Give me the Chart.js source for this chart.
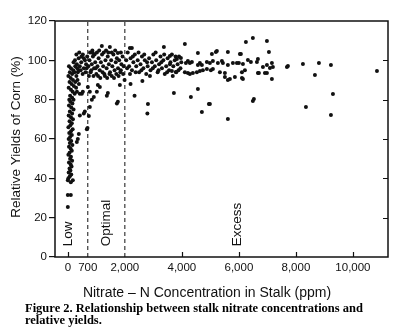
<!DOCTYPE html>
<html>
<head>
<meta charset="utf-8">
<script src="https://cdn.jsdelivr.net/npm/chart.js@4"></script>
<style>
  html, body { margin: 0; background: #fff; }
  canvas { display: block; }
</style>
</head>
<body>
<canvas id="chart" width="408" height="335"></canvas>
<script>
// stalk nitrate-N (ppm) vs relative corn yield (%), one [ppm, yield] pair per field
const lowStalk = [
  [40,97],[110,96],[190,95],[260,97],[330,96],[70,94],[150,93],[230,94],[300,92],[380,95],
  [20,92],[100,91],[180,90],[260,89],[340,90],[60,89],[130,88],[210,87],[290,86],[390,88],
  [30,86],[110,85],[170,84],[240,83],[320,84],[80,82],[150,81],[200,80],[50,80],[420,83],
  [491,83],[526,84],
  [250,100],[316,98],[380,101],[420,97],[470,99],[526,103],[560,96],[600,100],[640,98],[680,102],
  [350,94],[450,95],[520,93],[620,94],[200,99],[480,102],[560,101],[660,96],[300,103],[400,104],
  [90,79],[160,78],[40,77],[120,76],[200,75],[70,74],[150,73],[30,72],[110,71],[180,70],
  [60,69],[140,68],[90,67],[20,66],[170,65],[110,64],[50,63],[140,62],[80,61],[30,60],
  [120,59],[70,58],[160,57],[40,56],[100,55],[140,54],[60,53],[20,52],[110,51],[80,50],
  [150,49],[40,48],[100,47],[130,46],[60,45],[90,44],[30,43],[120,42],[70,41],[20,40],
  [0,39],[105,38],[175,39],[0,31.5],[105,31.5],[0,25.4],
  [316,58.5],[351,60],[386,62.5],[421,72],[561,73],[596,74],[667,65],[690,65.6]
];
const optimalStalk = [
  [720,97],[760,100],[800,94],[840,98],[880,102],[920,96],[960,99],[1000,93],[1040,97],[1080,101],
  [1120,95],[1160,99],[1200,103],[1240,97],[1280,93],[1320,100],[1360,96],[1400,102],[1440,98],[1480,94],
  [1520,100],[1560,97],[1600,103],[1640,95],[1680,99],[1720,101],[1760,96],[1800,100],[1840,94],[1880,98],
  [1920,102],[1960,97],
  [740,92],[820,95],[900,92],[980,96],[1060,92],[1140,91],[1220,94],[1300,92],[1380,91],[1460,93],
  [1540,92],[1620,91],[1700,93],[1780,92],[1860,95],[1940,93],
  [780,104],[860,105],[940,103],[1020,104],[1100,105],[1193,107.3],[1260,104],[1340,105],[1420,104],[1474,106.8],
  [1540,104],[1660,105],[1755,103.7],[1860,104],[877,103.7],
  [772,76.3],[737,71.7],[772,84],[842,80],[912,81.3],[1018,84],[702,86.4],[1053,87.4],[1123,86.4],[1368,82],
  [1404,83.4],[1720,78],[1755,79],[1825,87.4],[1990,90]
];
const excessStalk = [
  [2050,100],[2100,104],[2150,97],[2200,101],[2250,95],[2300,99],[2350,103],[2400,97],[2450,100],[2500,94],
  [2550,98],[2600,102],[2650,96],[2700,100],[2750,93],[2800,97],[2850,101],[2900,95],[2950,99],[3000,103],
  [3050,97],[3100,100],[3150,94],[3200,98],[3250,102],[3300,96],[3350,100],[3400,93],[3450,97],[3500,101],
  [3550,95],[3600,99],[3650,103],[3700,97],[3750,100],[3800,94],[3850,98],[3900,102],[3950,96],
  [2080,96],[2180,93],[2280,102],[2380,94],[2480,104],[2580,95],[2680,103],[2780,99],[2880,92],[2980,96],
  [3080,104],[3180,95],[3280,99],[3380,103],[3480,94],[3580,98],[3680,92],[3780,102],[3880,95],[3980,99],
  [2176,106.3],[2246,106.3],[3369,106.8],[4105,108.3],[3579,102.2],[3825,100.7],[3965,101.2],[4562,103.7],[5228,104.7],[5193,104.2],
  [5053,103.2],[5614,104.2],[6070,103.2],[6246,109.3],[6490,111.3],[6983,109.8],[7053,104.2],[6035,103.2],
  [4211,99.6],[4281,98.6],[4141,98.6],[4351,99.1],[4632,98.6],[4702,97.6],[4562,97.6],[4877,99.1],[4983,98.6],[5088,99.6],
  [5263,98.6],[5404,99.6],[5439,98.6],[5614,97.6],[5790,98.6],[5930,98.6],[6000,98.6],[6141,98.1],[6316,100.2],[6421,99.1],
  [6632,99.1],[6667,100.7],[6843,96.6],[6983,97.6],[7088,96.1],[7158,98.6],[7193,96.6],[7720,97.1],
  [3650,94.6],[3790,94.1],[4105,94],[4211,93.5],[4281,93],[4386,93.5],[4526,94],[4632,94.6],[4737,95],[4877,95.6],
  [5018,95],[5088,95.6],[5334,94],[5509,93.5],[5684,90.5],[5860,91.5],[6106,91],[6106,94],[6211,95],[6667,93.5],
  [6913,93.5],[7158,90.5],[5614,90],[5509,91.5],[6141,90.5],[6983,93.5],[6702,93.5],
  [7685,96.6],[8246,98.1],[8807,98.6],[9228,97.6],[10843,94.6],[8667,92.5],[9299,82.9],[8351,76.3],[9228,72.2],
  [2200,88],[2340,82],[2810,77.8],[2790,73],[2615,89.5],[3720,83.4],[4562,85.4],[4316,81.3],[4948,77.8],[4702,73.7],
  [4983,77.8],[5614,70.2],[6526,80.3],[6490,79.3]
];

// class boundaries and labels
const boundaryPpm = [700, 2000];
const regionNames = ['Low', 'Optimal', 'Excess'];
const regionPpm = [30, 1350, 5960];

const xTicks = [0, 700, 2000, 4000, 6000, 8000, 10000];
const xTickMarks = [0, 4000, 6000, 8000, 10000];
const yTicks = [0, 20, 40, 60, 80, 100, 120];

const FONT = "'Liberation Sans', Arial, Helvetica, sans-serif";
const INK = '#111';

const toPoints = rows => rows.map(([ppm, yld]) => ({ x: ppm, y: yld }));

function dotSet(rows) {
  return {
    type: 'scatter',
    data: toPoints(rows),
    pointRadius: 2,
    pointBackgroundColor: INK,
    pointBorderWidth: 0,
    order: 1
  };
}

function boundaryLine(ppm) {
  return {
    type: 'line',
    data: [{ x: ppm, y: yTicks[0] }, { x: ppm, y: yTicks[yTicks.length - 1] }],
    borderColor: INK,
    borderWidth: 1,
    borderDash: [4, 3],
    pointRadius: 0,
    fill: false,
    order: 2
  };
}

// frame, inward tick marks, titles and caption
const decor = {
  id: 'decor',
  afterDraw(chart) {
    const { ctx, chartArea: a, scales: { x, y } } = chart;
    ctx.save();
    ctx.strokeStyle = INK;
    ctx.lineWidth = 1.5;
    ctx.strokeRect(a.left, a.top, a.right - a.left, a.bottom - a.top);

    ctx.lineWidth = 1.2;
    ctx.beginPath();
    xTickMarks.forEach(v => {
      const px = Math.round(x.getPixelForValue(v)) + 0.5;
      ctx.moveTo(px, a.bottom);
      ctx.lineTo(px, a.bottom - 5);
    });
    yTicks.slice(1, -1).forEach(v => {
      const py = Math.round(y.getPixelForValue(v)) + 0.5;
      ctx.moveTo(a.right, py);
      ctx.lineTo(a.right - 5, py);
    });
    ctx.stroke();

    ctx.fillStyle = INK;
    ctx.textBaseline = 'middle';
    ctx.textAlign = 'left';
    ctx.font = '13.5px ' + FONT;
    regionNames.forEach((name, i) => {
      ctx.save();
      ctx.translate(x.getPixelForValue(regionPpm[i]), y.getPixelForValue(5.5));
      ctx.rotate(-Math.PI / 2);
      ctx.fillText(name, 0, 0);
      ctx.restore();
    });

    // y title
    ctx.save();
    ctx.translate(16, 137);
    ctx.rotate(-Math.PI / 2);
    ctx.textAlign = 'center';
    ctx.fillText('Relative Yields of Corn (%)', 0, 0);
    ctx.restore();

    // x title
    ctx.textAlign = 'center';
    ctx.textBaseline = 'alphabetic';
    ctx.font = '14px ' + FONT;
    ctx.fillText('Nitrate \u2013 N Concentration in Stalk (ppm)', 207, 297);

    // caption
    ctx.textAlign = 'left';
    ctx.fillStyle = '#000';
    ctx.font = "bold 12.5px 'Liberation Serif', 'Times New Roman', serif";
    ctx.fillText('Figure 2. Relationship between stalk nitrate concentrations and', 25, 312);
    ctx.fillText('relative yields.', 25, 323.5);
    ctx.restore();
  }
};

new Chart(document.getElementById('chart'), {
  data: {
    datasets: [
      dotSet(lowStalk),
      dotSet(optimalStalk),
      dotSet(excessStalk),
      ...boundaryPpm.map(boundaryLine)
    ]
  },
  options: {
    responsive: false,
    animation: false,
    devicePixelRatio: 1,
    layout: { padding: { top: 21, right: 20, left: 0, bottom: 0 } },
    plugins: { legend: { display: false }, tooltip: { enabled: false } },
    scales: {
      x: {
        type: 'linear',
        min: -450,
        max: 11230,
        afterBuildTicks: s => { s.ticks = xTicks.map(v => ({ value: v })); },
        afterFit: s => { s.height = 78; },
        grid: { display: false, drawTicks: false },
        border: { display: false },
        ticks: {
          autoSkip: false,
          maxRotation: 0,
          padding: 4,
          color: INK,
          font: { family: FONT, size: 11.5 },
          callback: v => v.toLocaleString('en-US')
        }
      },
      y: {
        min: 0,
        max: 120,
        afterBuildTicks: s => { s.ticks = yTicks.map(v => ({ value: v })); },
        afterFit: s => { s.width = 55; },
        grid: { drawOnChartArea: false, tickLength: 6, color: INK, lineWidth: 1.2 },
        border: { display: false },
        ticks: {
          padding: 2,
          color: INK,
          font: { family: FONT, size: 11.5 }
        }
      }
    }
  },
  plugins: [decor]
});
</script>
</body>
</html>
